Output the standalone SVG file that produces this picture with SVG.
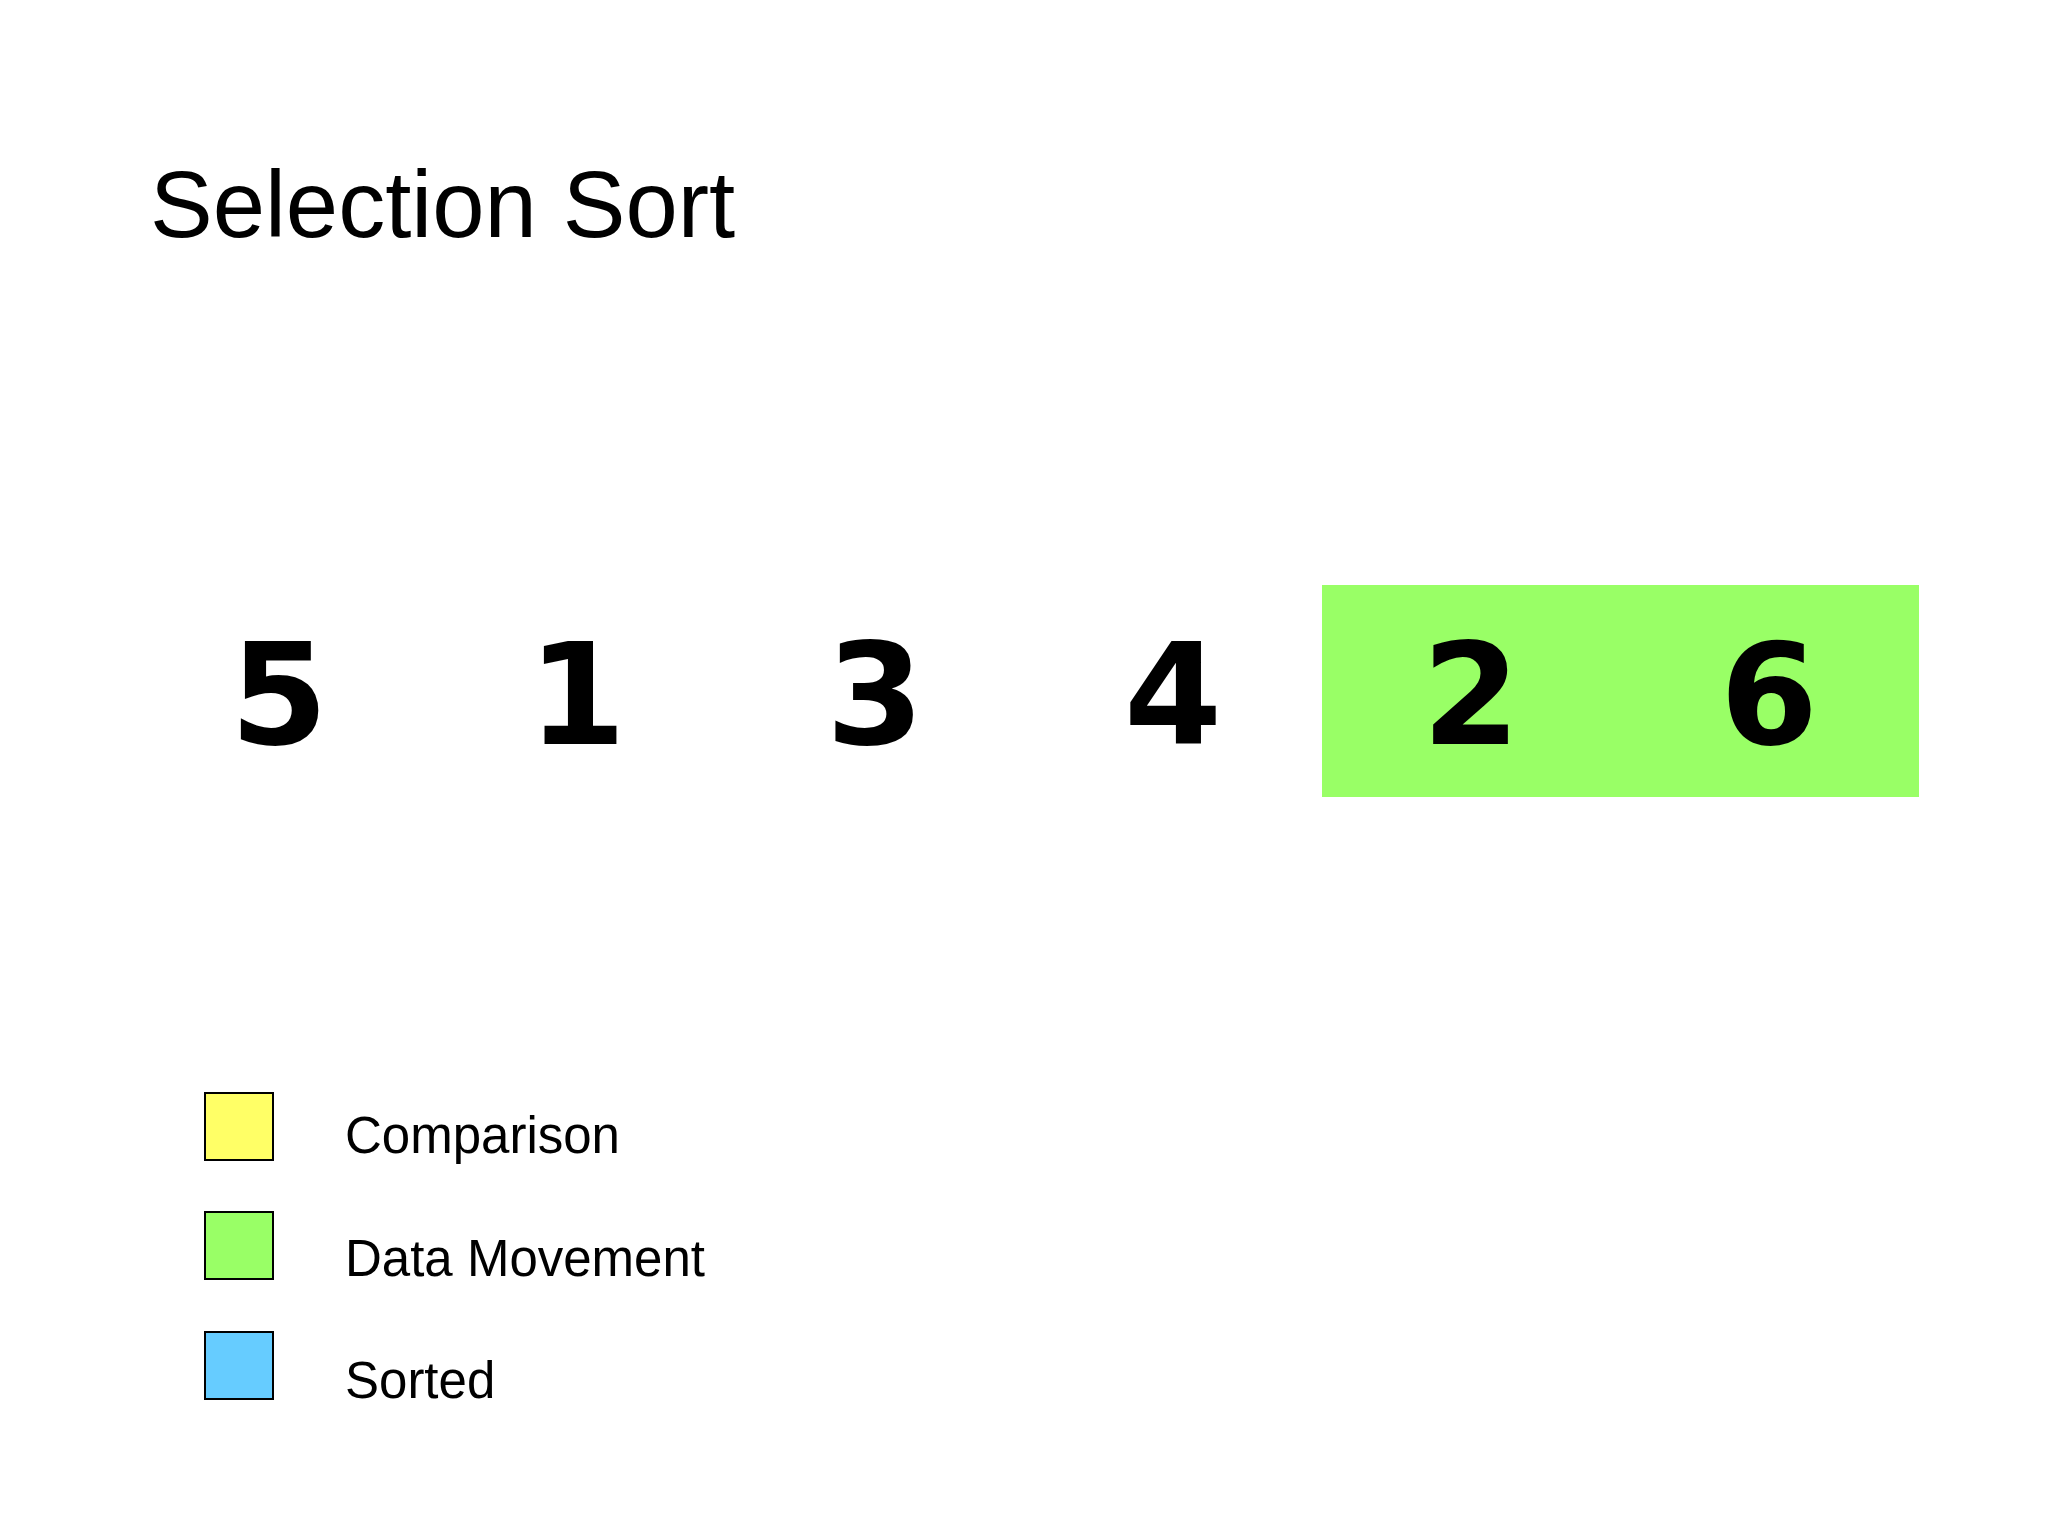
<svg xmlns="http://www.w3.org/2000/svg" width="2048" height="1536" viewBox="0 0 2048 1536">
<style>
.title{font-family:"Liberation Sans",Arial,sans-serif;font-size:94px;fill:#000}
.digit{font-family:"DejaVu Sans",Verdana,sans-serif;font-weight:bold;font-size:141px;fill:#000;text-anchor:middle}
.leg{font-family:"Liberation Sans",Arial,sans-serif;font-size:51px;fill:#000}
.box{stroke:#000;stroke-width:2}
</style>
<rect width="2048" height="1536" fill="#fff"/>
<text class="title" x="150" y="237">Selection Sort</text>
<g id="highlight"><rect x="1322" y="585" width="597" height="212" fill="#99ff66"/></g>
<g id="n5"><text class="digit" x="279" y="744">5</text></g>
<g id="n1"><text class="digit" x="577" y="744">1</text></g>
<g id="n3"><text class="digit" x="875" y="744">3</text></g>
<g id="n4"><text class="digit" x="1173" y="744">4</text></g>
<g id="n2"><text class="digit" x="1471" y="744">2</text></g>
<g id="n6"><text class="digit" x="1769" y="744">6</text></g>
<g id="connectors"></g>
<g id="legend-comparison"><rect class="box" x="205" y="1093" width="68" height="67" fill="#ffff66"/><text class="leg" x="345" y="1153">Comparison</text></g>
<g id="legend-movement"><rect class="box" x="205" y="1212" width="68" height="67" fill="#99ff66"/><text class="leg" x="345" y="1276">Data Movement</text></g>
<g id="legend-sorted"><rect class="box" x="205" y="1332" width="68" height="67" fill="#66ccff"/><text class="leg" x="345" y="1398">Sorted</text></g>
</svg>
